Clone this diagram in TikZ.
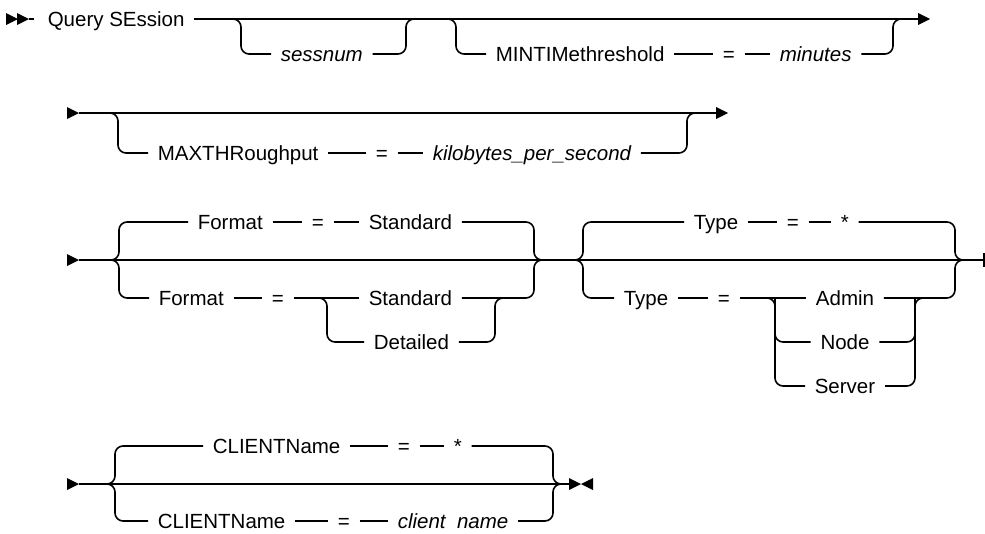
\documentclass[tikz,border=0pt]{standalone}
\usepackage{fontspec}
\setmainfont{Liberation Sans}
\begin{document}
\begin{tikzpicture}[x=1pt, y=-1pt, line width=1.6pt,
    kw/.style={font=\fontsize{20.5}{24}\selectfont, anchor=west, inner xsep=9pt, inner ysep=0pt, text height=14pt, text depth=0pt},
    var/.style={kw, font=\fontsize{20.5}{24}\selectfont\itshape},
    opt/.style={kw, anchor=center},
    rc/.style={rounded corners=8pt},
    rtip/.pic={\fill (0,-6) -- (12,0) -- (0,6) -- cycle;},
    ltip/.pic={\fill (12,-6) -- (0,0) -- (12,6) -- cycle;}]
  \useasboundingbox (0,0) rectangle (985,533);
  % row 1
  \pic at (6,19) {rtip};
  \pic at (17,19) {rtip};
  \coordinate (s1) at (29,19);
  \node[kw] (q) at (38,19) {Query SEssion};
  \node[var] (sn) at (271,54) {sessnum};
  \node[kw] (mt) at (486,54) {MINTIMethreshold};
  \node[kw] (eqa) at (713,54) {=};
  \node[var] (mn) at (770,54) {minutes};
  \coordinate (j1) at (241,19);
  \coordinate (j2) at (406,19);
  \coordinate (j3) at (456,19);
  \coordinate (j4) at (893,19);
  \coordinate (r1) at (918,19);
  \draw (s1) -- ++(5,0);
  \draw (q.east) -- (r1);
  \pic at (r1) {rtip};
  \draw[rc] (sn.west) -| (j1) -- ++(-10,0);
  \draw[rc] (sn.east) -| (j2) -- ++(10,0);
  \draw[rc] (mt.west) -| (j3) -- ++(-10,0);
  \draw (mt.east) -- (eqa.west);
  \draw (eqa.east) -- (mn.west);
  \draw[rc] (mn.east) -| (j4) -- ++(10,0);
  % row 2
  \pic at (67,113) {rtip};
  \coordinate (s2) at (79,113);
  \node[kw] (mx) at (148,153) {MAXTHRoughput};
  \node[kw] (eqc) at (366,153) {=};
  \node[var] (kb) at (423,153) {kilobytes\_per\_second};
  \coordinate (j5) at (118,113);
  \coordinate (j6) at (687,113);
  \coordinate (r2) at (716,113);
  \draw (s2) -- (r2);
  \pic at (r2) {rtip};
  \draw[rc] (mx.west) -| (j5) -- ++(-10,0);
  \draw (mx.east) -- (eqc.west);
  \draw (eqc.east) -- (kb.west);
  \draw[rc] (kb.east) -| (j6) -- ++(10,0);
  % row 3
  \pic at (67,260) {rtip};
  \coordinate (s3) at (79,260);
  \coordinate (t3) at (984,260);
  \draw (s3) -- (t3);
  \draw ([yshift=-7pt]t3) -- ([yshift=7pt]t3);
  \node[kw] (ft) at (188,222) {Format};
  \node[kw] (eqd) at (302,222) {=};
  \node[kw] (st) at (359,222) {Standard};
  \node[kw] (fb) at (149,298) {Format};
  \node[kw] (eqe) at (262,298) {=};
  \node[kw] (sb) at (359,298) {Standard};
  \node[kw] (dt) at (364,342) {Detailed};
  \coordinate (b1) at (119,260);
  \coordinate (b2) at (534,260);
  \coordinate (c1) at (327,298);
  \coordinate (c2) at (495,298);
  \draw[rc] (ft.west) -| (b1) -- ++(-8,0);
  \draw[rc] (fb.west) -| (b1) -- ++(-8,0);
  \draw (ft.east) -- (eqd.west);
  \draw (eqd.east) -- (st.west);
  \draw[rc] (st.east) -| (b2) -- ++(8,0);
  \draw (fb.east) -- (eqe.west);
  \draw (eqe.east) -- (sb.west);
  \draw[rc] (sb.east) -| (b2) -- ++(8,0);
  \draw[rc] (dt.west) -| (c1) -- ++(-9,0);
  \draw[rc] (dt.east) -| (c2) -- ++(9,0);
  \node[kw] (tt) at (684,222) {Type};
  \node[kw] (eqf) at (777,222) {=};
  \node[kw] (as) at (831,222) {*};
  \node[kw] (tb) at (614,298) {Type};
  \node[kw] (eqg) at (708,298) {=};
  \node[opt] (ad) at (845,298) {Admin};
  \node[opt] (nd) at (845,342) {Node};
  \node[opt] (sv) at (845,386) {Server};
  \coordinate (b3) at (583,260);
  \coordinate (b4) at (955,260);
  \coordinate (c3) at (775,298);
  \coordinate (c4) at (915,298);
  \draw[rc] (tt.west) -| (b3) -- ++(-8,0);
  \draw[rc] (tb.west) -| (b3) -- ++(-8,0);
  \draw (tt.east) -- (eqf.west);
  \draw (eqf.east) -- (as.west);
  \draw[rc] (as.east) -| (b4) -- ++(8,0);
  \draw (tb.east) -- (eqg.west);
  \draw (eqg.east) -- (ad.west);
  \draw[rc] (ad.east) -| (b4) -- ++(8,0);
  \draw[rc] (sv.west) -| (c3) -- ++(-9,0);
  \draw[rc] (nd.west) -| (c3);
  \draw[rc] (sv.east) -| (c4) -- ++(9,0);
  \draw[rc] (nd.east) -| (c4);
  % row 4
  \pic at (67,484) {rtip};
  \coordinate (s4) at (79,484);
  \coordinate (r4) at (569,484);
  \draw (s4) -- (r4);
  \pic at (r4) {rtip};
  \pic at (581,484) {ltip};
  \node[kw] (ct) at (203,446) {CLIENTName};
  \node[kw] (eqh) at (388,446) {=};
  \node[kw] (ak) at (444,446) {*};
  \node[kw] (cb) at (148,521) {CLIENTName};
  \node[kw] (eqi) at (328,521) {=};
  \node[var] (cn) at (388,521) {client\ \ name};
  \coordinate (b5) at (115,484);
  \coordinate (b6) at (553,484);
  \draw[rc] (ct.west) -| (b5) -- ++(-8,0);
  \draw[rc] (cb.west) -| (b5) -- ++(-8,0);
  \draw (ct.east) -- (eqh.west);
  \draw (eqh.east) -- (ak.west);
  \draw[rc] (ak.east) -| (b6) -- ++(8,0);
  \draw (cb.east) -- (eqi.west);
  \draw (eqi.east) -- (cn.west);
  \draw[rc] (cn.east) -| (b6) -- ++(8,0);
\end{tikzpicture}
\end{document}
